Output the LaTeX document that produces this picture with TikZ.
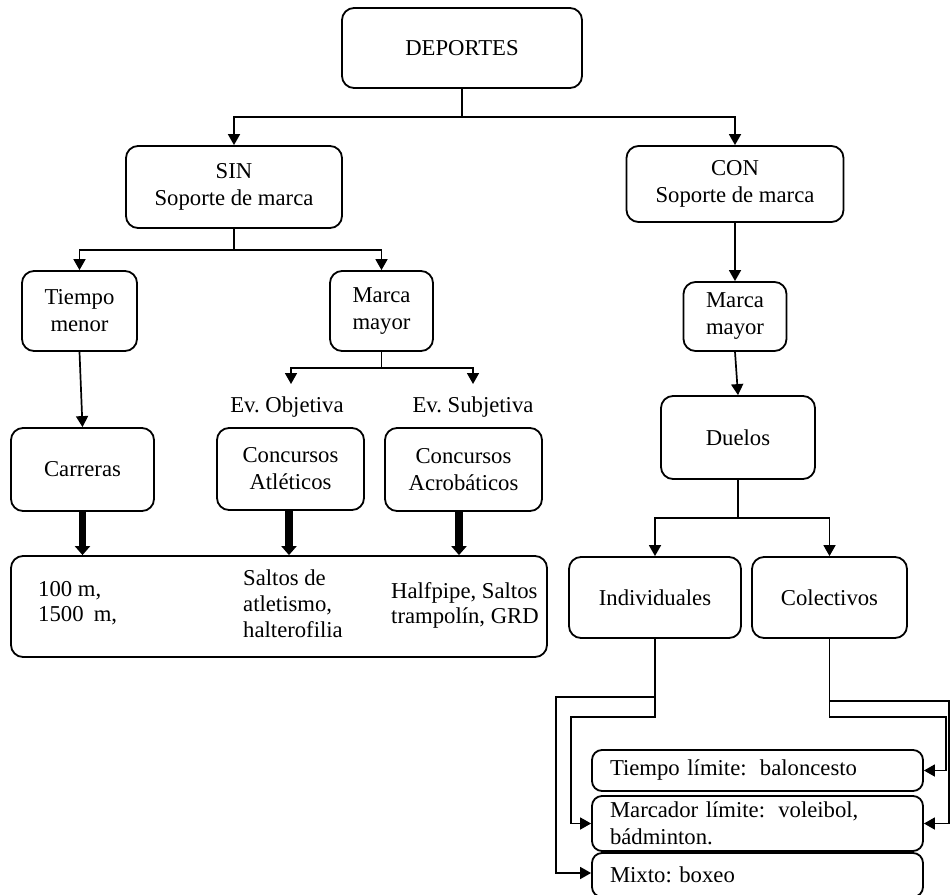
\documentclass[tikz,border=0pt]{standalone}
\usepackage{fontspec}
\setmainfont{Liberation Serif}
\usetikzlibrary{arrows.meta}
\frenchspacing

\begin{document}
\begin{tikzpicture}[
  x=1pt, y=-1pt,
  every node/.style={font=\fontsize{22.7}{27}\selectfont},
  box/.style={draw, rounded corners=12pt, line width=1.8pt, align=center, inner sep=0pt},
  listbox/.style={draw, rounded corners=10pt, line width=1.8pt, align=left,
                  inner xsep=18pt, inner ysep=0pt, text width=295pt,
                  minimum width=331pt},
  ln/.style={line width=1.7pt},
  arr/.style={ln, -{Triangle[length=11pt,width=12pt]}},
  big/.style={line width=7.5pt, -{Triangle[length=9pt,width=15pt]}},
  plain/.style={inner sep=0pt, align=left, anchor=north west}
]
\fill[white] (0,0) rectangle (950,894);
\useasboundingbox (0,0) rectangle (950,894);

% --- top level ---
\node[box, minimum width=240pt, minimum height=80pt] (dep) at (462,48) {DEPORTES};
\node[box, minimum width=216pt, minimum height=82pt] (sin) at (234,187) {SIN\\Soporte de marca};
\node[box, minimum width=217pt, minimum height=76pt] (con) at (735,184) {CON\\Soporte de marca};

% --- left branch ---
\node[box, minimum width=115pt, minimum height=80pt] (tm) at (79.5,311) {Tiempo\\menor};
\node[box, minimum width=103pt, minimum height=80pt] (mm1) at (381.5,311) {Marca\\mayor};
\node[inner sep=0pt] (evo) at (287,407) {Ev. Objetiva};
\node[inner sep=0pt] (evs) at (473,407) {Ev. Subjetiva};
\coordinate (evoIn) at (291,384);
\coordinate (evsIn) at (473,384);

\node[box, minimum width=143pt, minimum height=83pt] (carr) at (82.5,469.5) {Carreras};
\node[box, minimum width=147pt, minimum height=82pt] (atl) at (290.5,469) {Concursos\\Atléticos};
\node[box, minimum width=157pt, minimum height=83pt] (acro) at (463.5,469.5) {Concursos\\Acrobáticos};

% examples box
\node[box, minimum width=536pt, minimum height=101pt] (bot) at (279,606.5) {};
\node[plain, font=\fontsize{22.7}{25}\selectfont] (ex1) at (38,581.5) {100 m,\\1500\hspace{0.2em} m,};
\node[plain, font=\fontsize{22.7}{26}\selectfont] (ex2) at (243,569.5) {Saltos de\\atletismo,\\halterofilia};
\node[plain, font=\fontsize{22.7}{25}\selectfont] (ex3) at (391,582.5) {Halfpipe, Saltos\\trampolín, GRD};

% --- right branch ---
\node[box, minimum width=103pt, minimum height=69pt] (mm2) at (735,316.5) {Marca\\mayor};
\node[box, minimum width=154pt, minimum height=83pt] (duelos) at (738,437.5) {Duelos};
\node[box, minimum width=172pt, minimum height=81pt] (ind) at (655,597.5) {Individuales};
\node[box, minimum width=155pt, minimum height=81pt] (col) at (829.5,597.5) {Colectivos};

\node[listbox, minimum height=41pt] (tl) at (757.5,770.5) {Tiempo límite:\hspace{0.25em} baloncesto};
\node[listbox, minimum height=55pt] (marc) at (757.5,823.5) {Marcador límite:\hspace{0.25em} voleibol,\\bádminton.};
\node[listbox, minimum height=44pt] (mix) at (757.5,875) {Mixto: boxeo};

% knee points of the lower connectors
\coordinate (h1) at (0,697);
\coordinate (h3) at (0,701);
\coordinate (y873) at (0,873);
\coordinate (mixIn) at (mix.west |- y873);

% --- connectors ---
\draw[arr] (dep.south) -- ++(0,28) coordinate (dj) -| (sin.north);
\draw[arr] (dj) -| (con.north);

\draw[arr] (sin.south) -- ++(0,21) coordinate (sj) -| (tm.north);
\draw[arr] (sj) -| (mm1.north);
\draw[arr] (tm.south) -- (carr.north);
\draw[arr] (mm1.south) -- ++(0,16) coordinate (mj) -| (evoIn);
\draw[arr] (mj) -| (evsIn);

\draw[big] (carr.south) -- (carr.south |- bot.north);
\draw[big] ([xshift=-1.5pt]atl.south) -- ([xshift=-1.5pt]atl.south |- bot.north);
\draw[big] ([xshift=-4.5pt]acro.south) -- ([xshift=-4.5pt]acro.south |- bot.north);

\draw[arr] (con.south) -- (mm2.north);
\draw[arr] (mm2.south) -- (duelos.north);
\draw[arr] (duelos.south) -- ++(0,38) coordinate (dj2) -| (ind.north);
\draw[arr] (dj2) -| (col.north);

\draw[arr] (ind.south) |- (571,717) |- (marc.west);
\draw[arr] (ind.south |- h1) -- (556,697) |- (mixIn);
\draw[arr] (col.south) |- (946,717) |- (tl.east);
\draw[arr] (col.south |- h3) -- (949,701) |- (marc.east);
\end{tikzpicture}
\end{document}
